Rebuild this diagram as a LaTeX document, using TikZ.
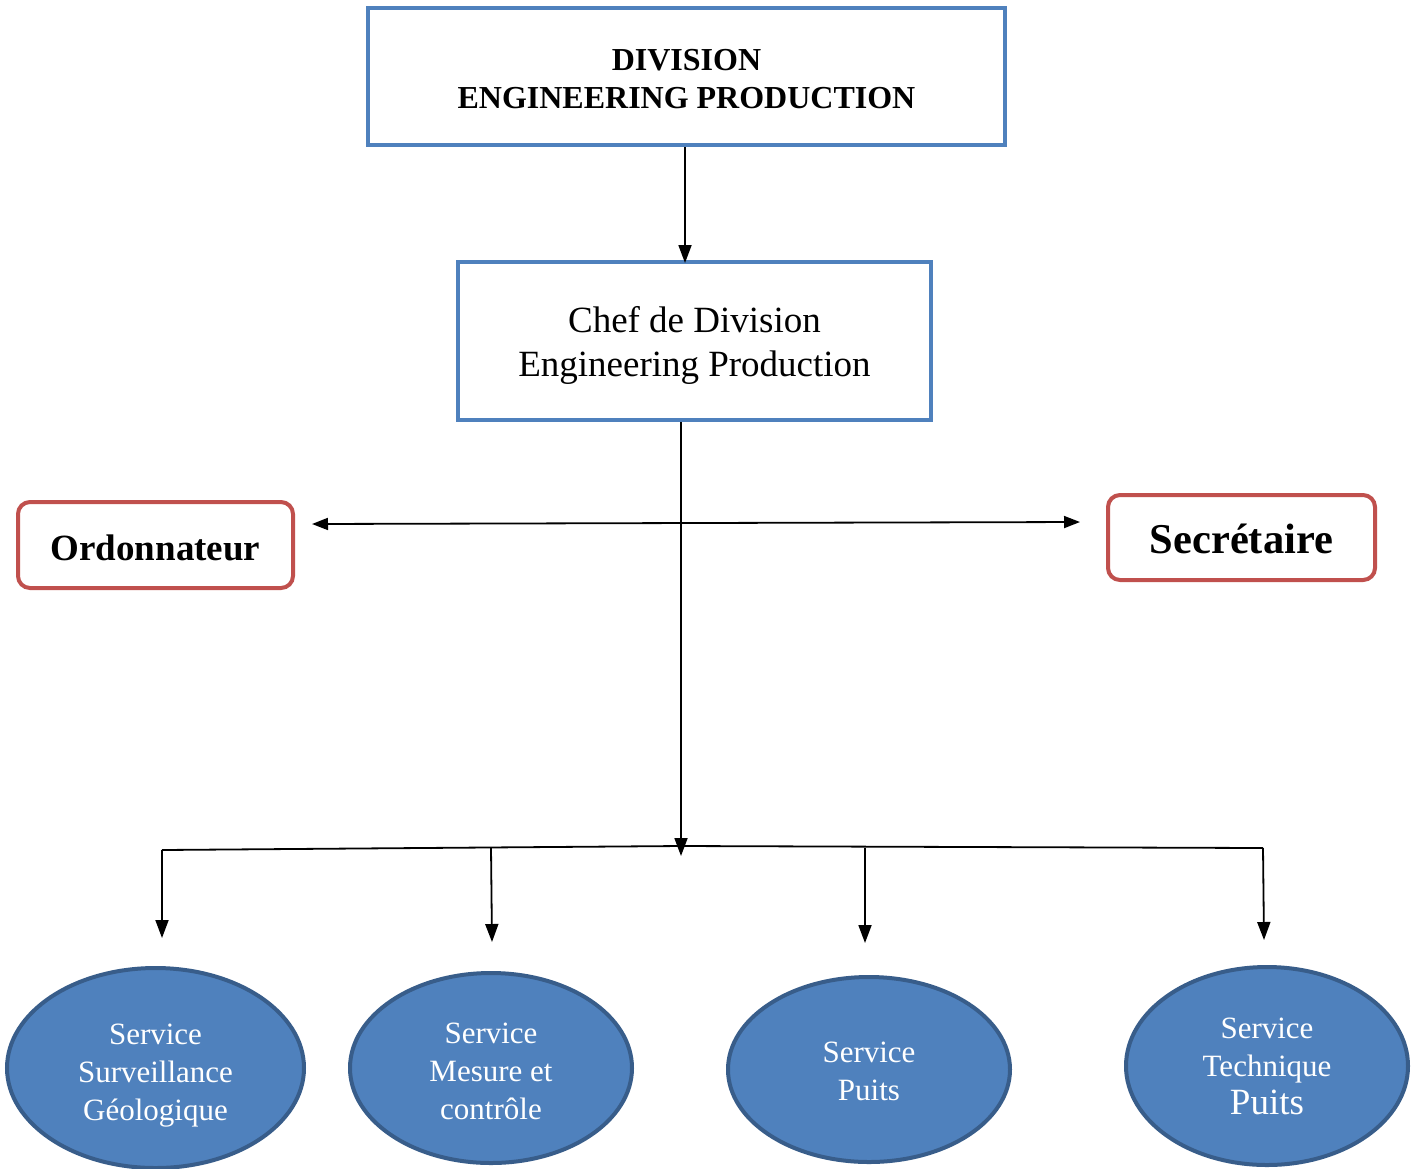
\documentclass[tikz,border=0pt]{standalone}
\usepackage{fontspec}
\setmainfont{Liberation Serif}
\usetikzlibrary{shapes.geometric,arrows.meta,calc}
\definecolor{boxblue}{HTML}{4F81BD}
\definecolor{boxred}{HTML}{C0504D}
\definecolor{ellborder}{HTML}{385D8A}
\tikzset{
  bluebox/.style={draw=boxblue,line width=4pt,rectangle,inner sep=0pt,align=center,text=black},
  redbox/.style={draw=boxred,line width=4pt,rectangle,rounded corners=12pt,inner sep=0pt,align=center,font=\bfseries},
  service/.style={ellipse,fill=boxblue,draw=ellborder,line width=4pt,text=white,align=center,inner sep=0pt,
    font=\fontsize{31}{38}\selectfont},
  conn/.style={line width=1.8pt,black},
  arr/.style={conn,-{Triangle[length=18pt,width=13pt]}},
  arrboth/.style={conn,{Triangle[length=16pt,width=12pt]}-{Triangle[length=16pt,width=12pt]}}
}
\begin{document}
\begin{tikzpicture}[x=1pt,y=-1pt]
\useasboundingbox[fill=white] (0,0) rectangle (1416,1168);

\node[bluebox,minimum width=637pt,minimum height=137pt,font=\fontsize{32}{38}\selectfont\bfseries] (b1) at (686.5,76.5) {\rule{0pt}{26pt}DIVISION\\ENGINEERING PRODUCTION};
\node[bluebox,minimum width=473pt,minimum height=158pt,font=\fontsize{37}{44}\selectfont] (b2) at (694.5,341) {\rule{0pt}{34pt}Chef de Division\\Engineering Production};

\node[redbox,minimum width=275pt,minimum height=86pt,font=\fontsize{37}{44}\selectfont\bfseries] (ord) at (155.5,545) {\rule{0pt}{31pt}Ordonnateur};
\node[redbox,minimum width=267pt,minimum height=85pt,font=\fontsize{42.5}{50}\selectfont\bfseries] (sec) at (1241.5,537.5) {\rule{0pt}{32pt}Secrétaire};

\node[service,minimum width=297pt,minimum height=200pt] (e1) at (155.5,1068) {\rule{0pt}{35pt}Service\\Surveillance\\Géologique};
\node[service,minimum width=282pt,minimum height=190pt] (e2) at (491,1068) {\rule{0pt}{27pt}Service\\Mesure et\\contrôle};
\node[service,minimum width=282pt,minimum height=185pt] (e3) at (869,1069.5) {\rule{0pt}{25pt}Service\\Puits};
\node[service,minimum width=282pt,minimum height=198pt] (e4) at (1267,1066) {Service\\Technique\\{\fontsize{37}{40}\selectfont Puits}};

% connectors
\coordinate (x1) at (685,0);
\draw[arr] (b1.south -| x1) -- ([yshift=-3pt]b2.north -| x1);

\coordinate (trunk) at (681,856);
\draw[arr] (b2.south -| trunk) -- (trunk);

\coordinate (hl) at (312,524);
\coordinate (hr) at (1080,522);
\draw[arrboth] (hl) -- (hr);

\coordinate (bl) at (162,850);
\coordinate (bm) at (681,846);
\coordinate (br) at (1263,848);
\coordinate (d2) at (491,847.5);
\coordinate (d3) at (865,848);
\draw[conn] (bl) -- (bm) -- (br);

\draw[arr] (bl) -- ([yshift=28pt]e1.north -| bl);
\draw[arr] (d2) -- ([yshift=29pt,xshift=1pt]e2.north);
\draw[arr] (d3) -- ([yshift=32pt]e3.north -| d3);
\draw[arr] (br) -- ([yshift=25pt,xshift=1pt]br |- e4.north);
\end{tikzpicture}
\end{document}
